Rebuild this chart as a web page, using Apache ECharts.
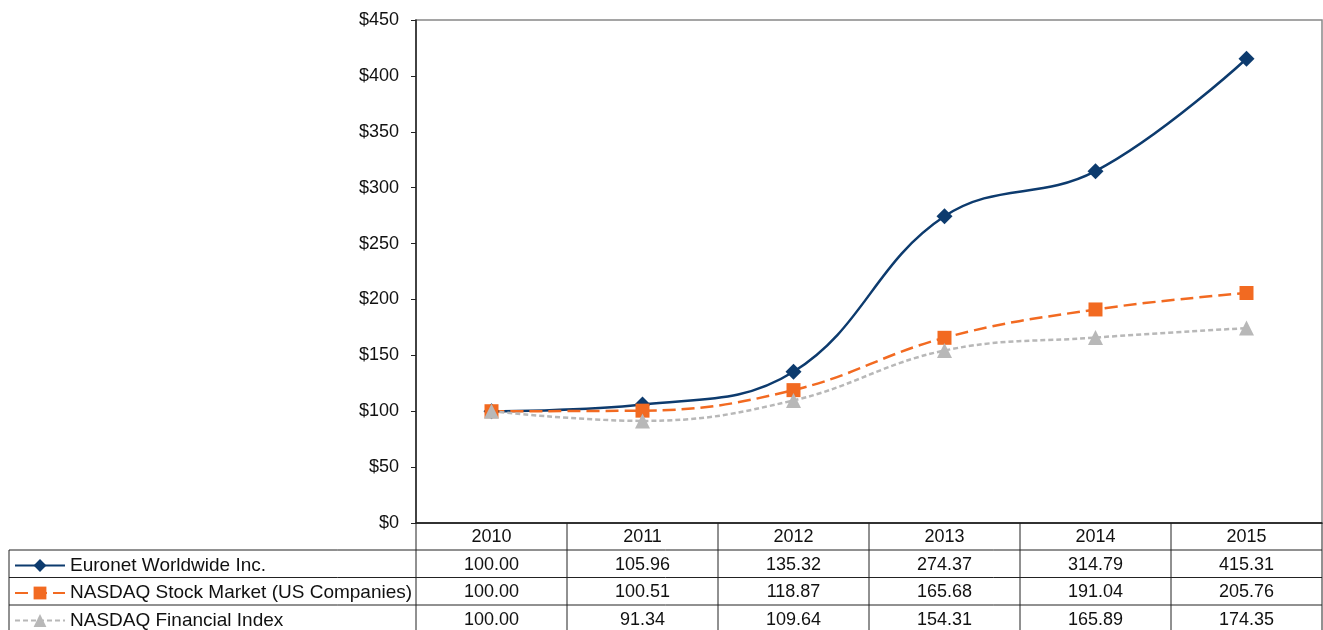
<!DOCTYPE html>
<html>
<head>
<meta charset="utf-8">
<script src="https://cdn.jsdelivr.net/npm/echarts@6/dist/echarts.min.js"></script>
<style>
  html, body { margin: 0; padding: 0; background: #fff; }
  #chart { width: 1323px; height: 630px; }
</style>
</head>
<body>
<div id="chart"></div>
<script>
var years = ['2010', '2011', '2012', '2013', '2014', '2015'];
var seriesNames = ['Euronet Worldwide Inc.', 'NASDAQ Stock Market (US Companies)', 'NASDAQ Financial Index'];
var euronet = [100.00, 105.96, 135.32, 274.37, 314.79, 415.31];
var nasdaqMarket = [100.00, 100.51, 118.87, 165.68, 191.04, 205.76];
var nasdaqFinancial = [100.00, 91.34, 109.64, 154.31, 165.89, 174.35];

var colors = ['#0d3b6e', '#f26a21', '#b8b8b8'];
var font = '"Liberation Sans", Arial, sans-serif';
var fontSize = 18;

var myChart = echarts.init(document.getElementById('chart'));

// one legend per table row so each sits in its own row
var legendTops = [556, 583.5, 611];
var legends = seriesNames.map(function (name, i) {
    return {
        left: 14, top: legendTops[i],
        padding: 0,
        itemWidth: 50, itemHeight: 16,
        textStyle: { fontSize: 19, color: '#111', fontFamily: font },
        data: [name]
    };
});

var option = {
    animation: false,
    color: colors,
    grid: {
        left: 416, right: 1, top: 20, bottom: 107,
        show: true, borderColor: '#888', borderWidth: 1.5
    },
    legend: legends,
    xAxis: {
        type: 'category',
        data: years,
        boundaryGap: true,
        axisLine: { lineStyle: { color: '#222', width: 1.5 } },
        axisTick: { show: false },
        axisLabel: { show: false }
    },
    yAxis: {
        type: 'value',
        min: 0, max: 450, interval: 50,
        axisLine: { show: true, lineStyle: { color: '#222', width: 1.5 } },
        axisTick: { show: true, length: 5, lineStyle: { color: '#222' } },
        splitLine: { show: false },
        axisLabel: {
            fontSize: fontSize, color: '#111', fontFamily: font, margin: 17,
            formatter: function (v) { return '$' + v; }
        }
    },
    series: [{
        name: seriesNames[0],
        type: 'line',
        data: euronet,
        smooth: 0.4,
        symbol: 'diamond',
        symbolSize: 16,
        lineStyle: { width: 2.5 }
    }, {
        name: seriesNames[1],
        type: 'line',
        data: nasdaqMarket,
        smooth: 0.4,
        symbol: 'rect',
        symbolSize: 14,
        lineStyle: { width: 2.5, type: [13, 6] }
    }, {
        name: seriesNames[2],
        type: 'line',
        data: nasdaqFinancial,
        smooth: 0.4,
        symbol: 'triangle',
        symbolSize: 15,
        lineStyle: { width: 2.5, type: [5, 3] }
    }]
};
myChart.setOption(option);

// data table under the plot
function buildTable() {
    var rows = [euronet, nasdaqMarket, nasdaqFinancial];
    var top = 523, rowH = [27, 27.5, 27.5, 27.5];
    var left = 9, plotLeft = 416, right = 1322;
    var g = [];
    var colW = (right - plotLeft) / years.length;
    var lineStyle = { stroke: '#222', lineWidth: 1 };

    var ys = [top];
    for (var i = 0; i < rowH.length; i++) ys.push(ys[i] + rowH[i]);

    // horizontal lines
    g.push({ type: 'line', shape: { x1: plotLeft, y1: ys[0], x2: right, y2: ys[0] }, style: lineStyle });
    for (var r = 1; r < ys.length; r++) {
        g.push({ type: 'line', shape: { x1: left, y1: ys[r], x2: right, y2: ys[r] }, style: lineStyle });
    }
    // vertical lines
    g.push({ type: 'line', shape: { x1: left, y1: ys[1], x2: left, y2: 630 }, style: lineStyle });
    for (var c = 0; c <= years.length; c++) {
        var x = plotLeft + c * colW;
        g.push({ type: 'line', shape: { x1: x, y1: ys[0], x2: x, y2: 630 }, style: lineStyle });
    }
    // header
    years.forEach(function (y, j) {
        var cx = myChart.convertToPixel({ xAxisIndex: 0 }, y);
        g.push({ type: 'text', x: cx, y: (ys[0] + ys[1]) / 2 + 1,
            style: { text: y, font: fontSize + 'px ' + font, fill: '#111', align: 'center', verticalAlign: 'middle' } });
    });
    rows.forEach(function (vals, k) {
        vals.forEach(function (v, j) {
            var cx = myChart.convertToPixel({ xAxisIndex: 0 }, years[j]);
            g.push({ type: 'text', x: cx, y: (ys[k + 1] + ys[k + 2]) / 2 + 1,
                style: { text: v.toFixed(2), font: fontSize + 'px ' + font, fill: '#111', align: 'center', verticalAlign: 'middle' } });
        });
    });
    myChart.setOption({ graphic: g });
}
buildTable();
</script>
</body>
</html>
